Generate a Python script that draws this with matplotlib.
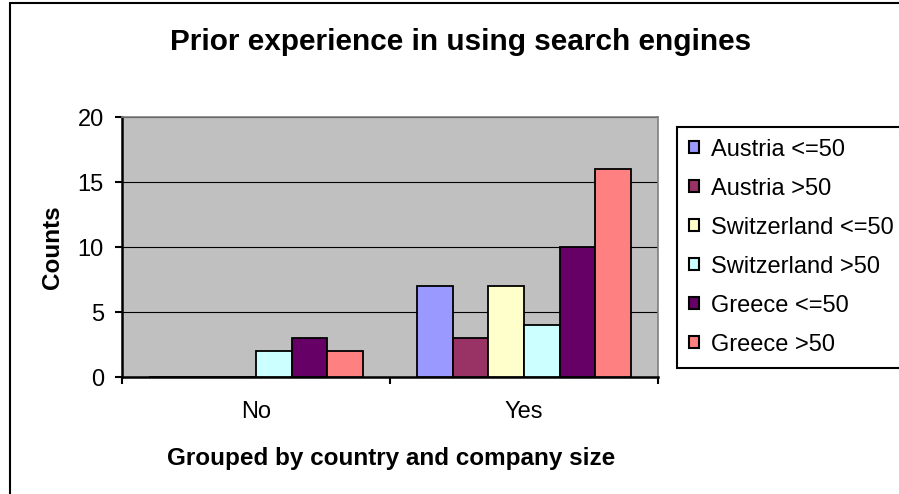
import numpy as np
import matplotlib
matplotlib.use('Agg')
import matplotlib.pyplot as plt
from matplotlib.patches import Rectangle, Patch

plt.rcParams['font.family'] = ['Liberation Sans', 'DejaVu Sans']

categories = ['No', 'Yes']
series_names = ['Austria <=50', 'Austria >50', 'Switzerland <=50',
                'Switzerland >50', 'Greece <=50', 'Greece >50']
series_values = [
    [0, 7],
    [0, 3],
    [0, 7],
    [2, 4],
    [3, 10],
    [2, 16],
]
colors = ['#9999FF', '#993366', '#FFFFCC', '#CCFFFF', '#660066', '#FF8080']

fig = plt.figure(figsize=(8.99, 4.94), dpi=100)
ax = fig.add_axes([122 / 899, 1 - 377 / 494, 536 / 899, 260 / 494])

# chart border
fig.patches.append(Rectangle((10 / 899, -0.1), 1.0, 1 - 3 / 494 + 0.1,
                             transform=fig.transFigure, fill=False,
                             edgecolor='black', linewidth=1.5, clip_on=False))

x = np.arange(len(categories))
n = len(series_names)
w = 1 / (n + 1.5)
for i, (name, vals, c) in enumerate(zip(series_names, series_values, colors)):
    ax.bar(x + (i - (n - 1) / 2) * w, vals, width=w, color=c,
           edgecolor='black', linewidth=1.3, label=name, zorder=3)

ax.set_facecolor('#C0C0C0')
ax.set_xlim(-0.5, 1.5)
ax.set_ylim(0, 20)
ax.set_yticks([0, 5, 10, 15, 20])
ax.yaxis.grid(True, color='black', linewidth=0.8, zorder=1)
ax.set_axisbelow(True)

ax.set_xticks(x)
ax.set_xticklabels(categories)
ax.set_xticks([-0.5, 0.5, 1.5], minor=True)
ax.tick_params(axis='x', which='major', length=0, pad=17, labelsize=17)
ax.tick_params(axis='x', which='minor', length=5, width=1.5, direction='out')
ax.tick_params(axis='y', length=5, width=1.5, direction='out', pad=8, labelsize=17)

for s in ['top', 'right']:
    ax.spines[s].set_color('#808080')
    ax.spines[s].set_linewidth(1.2)
for s in ['left', 'bottom']:
    ax.spines[s].set_color('black')
    ax.spines[s].set_linewidth(1.8)

fig.text(461 / 899, 1 - 42 / 494, 'Prior experience in using search engines',
         ha='center', va='center', fontsize=21.4, fontweight='bold')
fig.text(52 / 899, 1 - 247 / 494, 'Counts', ha='center', va='center',
         rotation=90, fontsize=17.5, fontweight='bold')
fig.text(391 / 899, 1 - 458 / 494, 'Grouped by country and company size',
         ha='center', va='center', fontsize=17.5, fontweight='bold')

handles = [Patch(facecolor=c, edgecolor='black', linewidth=1.5) for c in colors]
leg = fig.legend(handles, series_names, loc='upper left',
                 bbox_to_anchor=(677 / 899, 1 - 127 / 494), borderaxespad=0,
                 fontsize=17, handlelength=0.42, handleheight=0.42,
                 handletextpad=0.5, labelspacing=0.72, borderpad=0.5,
                 fancybox=False, framealpha=1, edgecolor='black')
leg.get_frame().set_linewidth(1.5)

fig.savefig('out.png', dpi=100)
